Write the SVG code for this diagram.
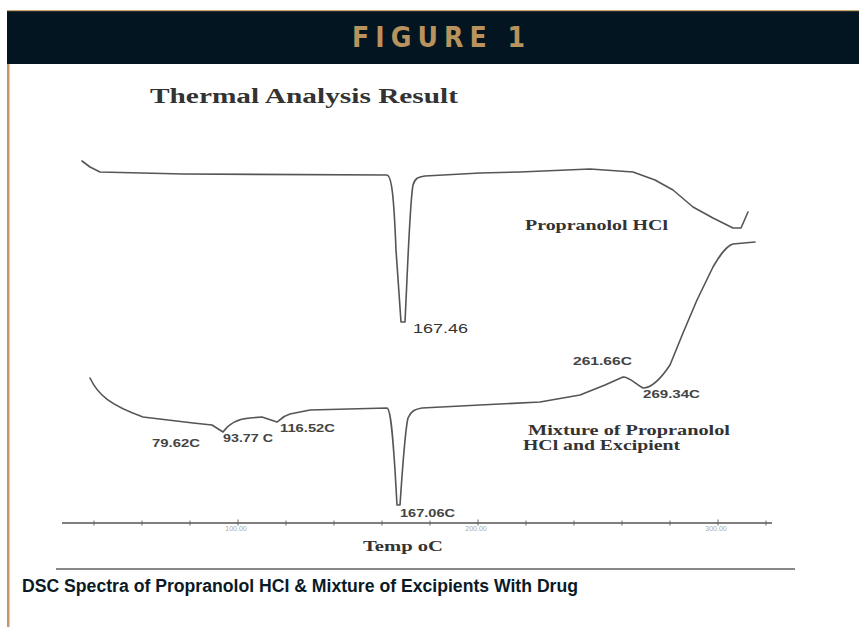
<svg xmlns="http://www.w3.org/2000/svg" width="859" height="627" viewBox="0 0 859 627">
<style>
.curve{fill:none;stroke:#555;stroke-width:1.6;stroke-linejoin:round;stroke-linecap:round}
.serif{font-family:"Liberation Serif","DejaVu Serif",serif;font-weight:bold;fill:#333}
.lbl{font-family:"Liberation Sans","DejaVu Sans",sans-serif;font-weight:bold;font-size:10px;fill:#444}
.tick{stroke:#666;stroke-width:1}
.ticklbl{font-family:"Liberation Sans","DejaVu Sans",sans-serif;font-size:7px;fill:#aaa;text-anchor:middle}
</style>
<rect width="859" height="627" fill="#fff"/>
<g id="header">
<rect x="7" y="10" width="852" height="54" fill="#021520"/>
<rect x="7" y="10" width="852" height="1.2" fill="#c9a46e"/>
<text x="352" y="47" font-family="'DejaVu Sans','Liberation Sans',sans-serif" font-stretch="condensed" font-weight="bold" font-size="28" fill="#b8935d" textLength="173">FIGURE 1</text>
</g>
<rect x="7" y="64" width="2.5" height="563" fill="#c09a66"/>
<g id="chart">
<text class="serif" x="150" y="103" font-size="20" textLength="308" lengthAdjust="spacingAndGlyphs">Thermal Analysis Result</text>
<g id="curves">
<path class="curve" d="M82,161 L90,167 L100,172 L183,174 L387,175 C392,176 394,200 396,250 L401,322 L405,322 C408,260 410,200 413,185 C415,178 418,177 425,176 L480,173 L520,172 L590,169 L633,172 L655,180 L673,190 L693,207 L713,218 L733,228 L741,228 L748,212"/>
<path class="curve" d="M90,378 C98,395 110,405 143,417 L193,423 L212,425 L223,432 C228,425 235,419 250,418 L262,417 L277,422 C280,420 283,416 290,414 L310,410 L387,408 C391,409 393,440 395,470 L397,505 L400,505 C403,460 405,430 408,418 C411,411 415,409 422,408 L480,405 L540,402 L580,395 L605,385 L623,377 C630,377 635,384 643,388 C650,388 660,380 670,365 L683,333 L697,300 L713,267 C720,255 726,246 733,244 L755,242"/>
</g>
<text class="serif" x="525" y="230" font-size="14" textLength="143" lengthAdjust="spacingAndGlyphs">Propranolol HCl</text>
<text class="serif" x="528" y="435" font-size="14" textLength="202" lengthAdjust="spacingAndGlyphs">Mixture of Propranolol</text>
<text class="serif" x="523" y="450" font-size="14" textLength="157" lengthAdjust="spacingAndGlyphs">HCl and Excipient</text>
<text x="413" y="333" font-family="'Liberation Sans','DejaVu Sans',sans-serif" font-size="13" fill="#333" textLength="55" lengthAdjust="spacingAndGlyphs">167.46</text>
<text class="lbl" x="152" y="447" textLength="48" lengthAdjust="spacingAndGlyphs">79.62C</text>
<text class="lbl" x="223" y="442" textLength="50" lengthAdjust="spacingAndGlyphs">93.77 C</text>
<text class="lbl" x="280" y="432" textLength="55" lengthAdjust="spacingAndGlyphs">116.52C</text>
<text class="lbl" x="400" y="517" textLength="55" lengthAdjust="spacingAndGlyphs">167.06C</text>
<text class="lbl" x="573" y="365" textLength="59" lengthAdjust="spacingAndGlyphs">261.66C</text>
<text class="lbl" x="643" y="398" textLength="57" lengthAdjust="spacingAndGlyphs">269.34C</text>
<g id="axis">
<line x1="62" y1="523" x2="772" y2="523" stroke="#555" stroke-width="1.4"/>
<path class="tick" d="M94,520.5v5 M142,520.5v5 M190,520.5v5 M238,519.5v6 M286,520.5v5 M334,520.5v5 M382,520.5v5 M430,520.5v5 M478,519.5v6 M526,520.5v5 M574,520.5v5 M622,520.5v5 M670,520.5v5 M718,519.5v6 M766,520.5v5"/>
<text class="ticklbl" x="236" y="531">100.00</text>
<text class="ticklbl" x="476" y="531">200.00</text>
<text class="ticklbl" x="716" y="531">300.00</text>
<text class="serif" x="363" y="551" font-size="14" textLength="80" lengthAdjust="spacingAndGlyphs">Temp oC</text>
</g>
</g>
<line x1="56" y1="569" x2="795" y2="569" stroke="#888" stroke-width="2"/>
<text x="22" y="592" font-family="'Liberation Sans','DejaVu Sans',sans-serif" font-weight="bold" font-size="18" fill="#0b1a26" textLength="556" lengthAdjust="spacingAndGlyphs">DSC Spectra of Propranolol HCI &amp; Mixture of Excipients With Drug</text>
</svg>
